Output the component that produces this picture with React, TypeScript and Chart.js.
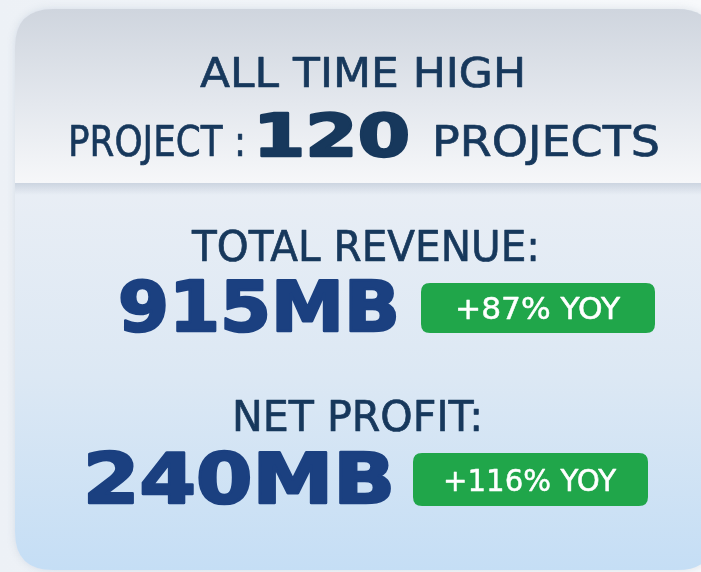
import React, { useEffect, useRef } from "react";
import { Chart, registerables } from "chart.js";

Chart.register(...registerables);

const headline = ["ALL TIME HIGH"];
const projectPrefix = "PROJECT :";
const projectCount = [120];
const projectSuffix = "PROJECTS";
const metricLabels = ["TOTAL REVENUE:", "NET PROFIT:"];
const metricValues = [915, 240];
const metricUnit = "MB";
const yoyGrowth = [87, 116];

const NAVY = "#17385c";
const BLUE = "#1b4080";
const GREEN = "#20a64a";
const FONT = "'DejaVu Sans', 'Open Sans', sans-serif";

function rr(ctx: CanvasRenderingContext2D, x: number, y: number, w: number, h: number, r: number) {
  ctx.beginPath();
  ctx.moveTo(x + r, y);
  ctx.lineTo(x + w - r, y);
  ctx.quadraticCurveTo(x + w, y, x + w, y + r);
  ctx.lineTo(x + w, y + h - r);
  ctx.quadraticCurveTo(x + w, y + h, x + w - r, y + h);
  ctx.lineTo(x + r, y + h);
  ctx.quadraticCurveTo(x, y + h, x, y + h - r);
  ctx.lineTo(x, y + r);
  ctx.quadraticCurveTo(x, y, x + r, y);
  ctx.closePath();
}

function fitText(
  ctx: CanvasRenderingContext2D,
  text: string,
  weight: string,
  size: number,
  width: number,
  x: number,
  y: number,
  stroke = 0
) {
  ctx.font = `${weight} ${size}px ${FONT}`;
  const w = ctx.measureText(text).width;
  ctx.save();
  ctx.translate(x, y);
  ctx.scale(width / w, 1);
  ctx.fillText(text, 0, 0);
  if (stroke > 0) {
    ctx.lineWidth = stroke;
    ctx.lineJoin = "round";
    ctx.strokeStyle = ctx.fillStyle as string;
    ctx.strokeText(text, 0, 0);
  }
  ctx.restore();
}

const cardPlugin = {
  id: "card",
  beforeDraw(chart: any) {
    const ctx: CanvasRenderingContext2D = chart.ctx;
    const W = chart.width;
    const H = chart.height;
    ctx.save();
    const bg = ctx.createLinearGradient(0, 0, W, 0);
    bg.addColorStop(0, "#edf1f6");
    bg.addColorStop(1, "#f7f9fb");
    ctx.fillStyle = bg;
    ctx.fillRect(0, 0, W, H);

    const cx = 15, cy = 9, cw = 700, ch = 561, r = 38;
    ctx.save();
    ctx.shadowColor = "rgba(120,140,170,0.22)";
    ctx.shadowBlur = 8;
    rr(ctx, cx, cy, cw, ch, r);
    ctx.fillStyle = "#e4ebf3";
    ctx.fill();
    ctx.restore();

    ctx.save();
    rr(ctx, cx, cy, cw, ch, r);
    ctx.clip();
    const body = ctx.createLinearGradient(0, 183, 0, cy + ch);
    body.addColorStop(0, "#e9eef5");
    body.addColorStop(0.5, "#dce8f4");
    body.addColorStop(1, "#c5def5");
    ctx.fillStyle = body;
    ctx.fillRect(cx, 183, cw, ch);
    const head = ctx.createLinearGradient(0, cy, 0, 183);
    head.addColorStop(0, "#cfd5de");
    head.addColorStop(0.55, "#e4e8ee");
    head.addColorStop(1, "#f6f7f9");
    ctx.fillStyle = head;
    ctx.fillRect(cx, cy, cw, 183 - cy);
    const sh = ctx.createLinearGradient(0, 183, 0, 195);
    sh.addColorStop(0, "rgba(150,165,185,0.35)");
    sh.addColorStop(1, "rgba(150,165,185,0)");
    ctx.fillStyle = sh;
    ctx.fillRect(cx, 183, cw, 12);
    ctx.restore();

    ctx.textBaseline = "alphabetic";
    ctx.textAlign = "left";

    ctx.fillStyle = NAVY;
    fitText(ctx, headline[0], "400", 41, 326, 200, 87, 0.7);

    fitText(ctx, projectPrefix, "400", 43, 178, 68, 156, 0.7);
    fitText(ctx, String(projectCount[0]), "700", 59, 157, 253, 156, 2.4);
    fitText(ctx, projectSuffix, "400", 43, 228, 432, 156, 0.7);

    const labelPos = [
      { x: 192, w: 348, y: 261 },
      { x: 232, w: 251, y: 431 },
    ];
    const valPos = [
      { x: 118, w: 282, y: 331 },
      { x: 83, w: 312, y: 503 },
    ];
    const badgePos = [
      { x: 421, y: 283, w: 234, h: 50, tx: 455, tw: 165 },
      { x: 413, y: 453, w: 235, h: 53, tx: 443, tw: 173 },
    ];
    for (let i = 0; i < metricLabels.length; i++) {
      ctx.fillStyle = NAVY;
      fitText(ctx, metricLabels[i], "400", 43, labelPos[i].w, labelPos[i].x, labelPos[i].y, 0.7);
      ctx.fillStyle = BLUE;
      fitText(ctx, `${metricValues[i]}${metricUnit}`, "700", 70, valPos[i].w, valPos[i].x, valPos[i].y, 2.6);
      const b = badgePos[i];
      ctx.fillStyle = GREEN;
      rr(ctx, b.x, b.y, b.w, b.h, 9);
      ctx.fill();
      ctx.fillStyle = "#ffffff";
      fitText(ctx, `+${yoyGrowth[i]}% YOY`, "400", 31, b.tw, b.tx, b.y + b.h / 2 + 11, 0.5);
    }
    ctx.restore();
  },
};

export default function App() {
  const ref = useRef<HTMLCanvasElement | null>(null);
  useEffect(() => {
    document.body.style.margin = "0";
    if (!ref.current) return;
    const chart = new Chart(ref.current, {
      type: "bar",
      data: { labels: metricLabels, datasets: [{ data: [], label: "" }] },
      options: {
        animation: false,
        responsive: false,
        maintainAspectRatio: false,
        events: [],
        layout: { padding: 0 },
        scales: { x: { display: false }, y: { display: false } },
        plugins: { legend: { display: false }, tooltip: { enabled: false }, title: { display: false } },
      },
      plugins: [cardPlugin],
    });
    return () => chart.destroy();
  }, []);
  return (
    <div style={{ position: "fixed", left: 0, top: 0, width: 701, height: 572 }}>
      <canvas ref={ref} width={701} height={572} style={{ display: "block", width: 701, height: 572 }} />
    </div>
  );
}
